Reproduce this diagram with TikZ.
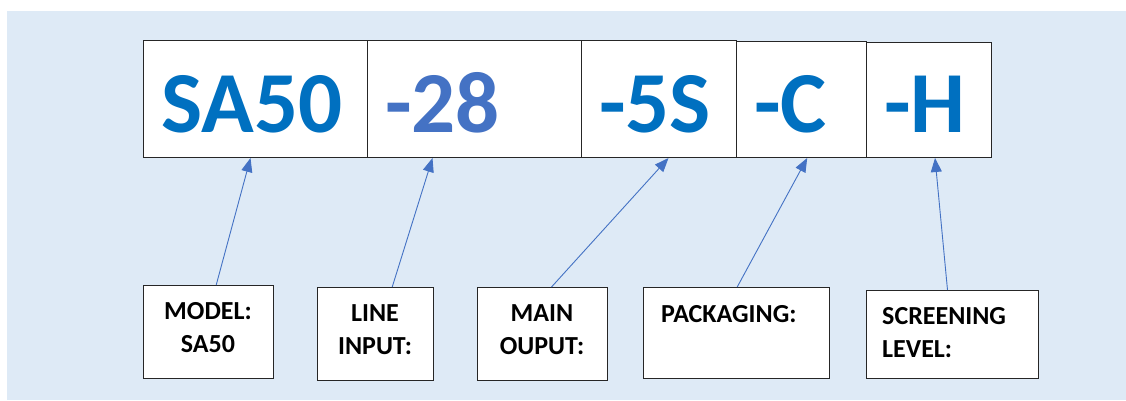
\documentclass[tikz,border=0pt]{standalone}
\usepackage{fontspec}
\setmainfont{Carlito}
\usetikzlibrary{arrows.meta}
\definecolor{bgblue}{HTML}{DEEAF6}
\definecolor{codeblue}{HTML}{0070C0}
\definecolor{accblue}{HTML}{4472C4}
\begin{document}
\begin{tikzpicture}[x=1pt,y=-1pt,
  boxst/.style={draw=black!85, line width=1pt, fill=white, inner sep=0pt, anchor=north west},
  bigtxt/.style={font=\fontsize{87}{100}\selectfont\bfseries, text=codeblue, inner sep=0pt, anchor=base west},
  smalltxt/.style={font=\fontsize{26}{33}\selectfont\bfseries, text=black, inner sep=0pt},
  arr/.style={draw=accblue, line width=0.9pt, -{Triangle[length=14pt,width=11pt]}, shorten >=0pt}]
\useasboundingbox (0,0) rectangle (1126,400);
\fill[bgblue] (7,11) rectangle (1126,400);
% top boxes
\node[boxst, minimum width=224, minimum height=117] (t1) at (143,40) {};
\node[boxst, minimum width=214, minimum height=117] (t2) at (367,40) {};
\node[boxst, minimum width=155, minimum height=117] (t3) at (581,40) {};
\node[boxst, minimum width=130, minimum height=116] (t4) at (736,41) {};
\node[boxst, minimum width=125, minimum height=115] (t5) at (866,42) {};
\node[bigtxt] (c1) at (161,132) {SA50};
\node[bigtxt, text=accblue] (c2) at (385,132) {-28};
\node[bigtxt] (c3) at (599,132) {-5S};
\node[bigtxt] (c4) at (754,132) {-C};
\node[bigtxt] (c5) at (884,132) {-H};
% bottom boxes
\node[boxst, minimum width=130, minimum height=93] (b1) at (143,285) {};
\node[boxst, minimum width=116, minimum height=93] (b2) at (317,287) {};
\node[boxst, minimum width=130, minimum height=93] (b3) at (477,287) {};
\node[boxst, minimum width=186, minimum height=91] (b4) at (643,287) {};
\node[boxst, minimum width=172, minimum height=88] (b5) at (866,290) {};
\node[smalltxt, anchor=base, align=center] (d1) at (208,352) {MODEL:\\SA50};
\node[smalltxt, anchor=base, align=center] (d2) at (375,354) {LINE\\INPUT:};
\node[smalltxt, anchor=base, align=center] (d3) at (542,354) {MAIN\\OUPUT:};
\node[smalltxt, anchor=base west, align=left] (d4) at (661,322) {PACKAGING:};
\node[smalltxt, anchor=base west, align=left] (d5) at (882,357) {SCREENING\\LEVEL:};
% connectors
\draw[arr] ([xshift=7.7pt]b1.north) -- ([xshift=-5pt]t1.south);
\draw[arr] ([xshift=16.7pt]b2.north) -- ([xshift=-42pt]t2.south);
\draw[arr] ([xshift=9pt]b3.north) -- ([xshift=9.5pt]t3.south);
\draw[arr] ([xshift=0.7pt]b4.north) -- ([xshift=5.7pt]t4.south);
\draw[arr] ([xshift=-5pt]b5.north) -- ([xshift=6pt]t5.south);
\end{tikzpicture}
\end{document}
